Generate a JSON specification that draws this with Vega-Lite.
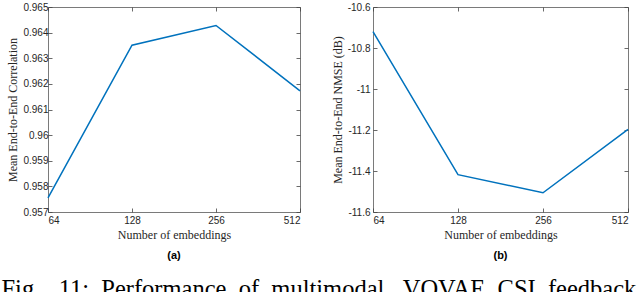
{
  "$schema": "https://vega.github.io/schema/vega-lite/v6.json",
  "padding": {"left": 1, "top": 1, "right": 0, "bottom": 0},
  "datasets": {
    "a": [
      {"n": 64, "v": 0.95755},
      {"n": 128, "v": 0.96351},
      {"n": 256, "v": 0.96428},
      {"n": 512, "v": 0.96173}
    ],
    "b": [
      {"n": 64, "v": -10.72},
      {"n": 128, "v": -11.418},
      {"n": 256, "v": -11.506},
      {"n": 512, "v": -11.197}
    ]
  },
  "title": {"text": "Fig.\u00a0\u00a0\u00a011:\u00a0\u00a0Performance\u00a0\u00a0of\u00a0\u00a0multimodal\u00a0\u00a0\u00a0VQVAE\u00a0\u00a0CSI\u00a0\u00a0feedback", "orient": "bottom", "anchor": "start", "dx": -5, "font": "Liberation Serif", "fontSize": 24.5, "fontWeight": "normal", "color": "#000", "offset": 16},
  "spacing": 26,
  "hconcat": [
    {
      "width": 252, "height": 205,
      "data": {"name": "a"},
      "title": {"text": "(a)", "orient": "bottom", "font": "Liberation Sans", "fontWeight": "bold", "fontSize": 11, "color": "#000", "offset": 10},
      "layer": [
        {
          "mark": {"type": "line", "color": "#0072BD", "strokeWidth": 1.5},
          "encoding": {
            "x": {"field": "n", "type": "quantitative", "scale": {"type": "log", "base": 2, "domain": [64, 512], "nice": false},
                  "axis": {"orient": "bottom", "values": [64, 128, 256, 512], "labelExpr": "'' + datum.value", "title": "Number of embeddings", "labelPadding": 7, "titlePadding": 4}},
            "y": {"field": "v", "type": "quantitative", "scale": {"domain": [0.957, 0.965], "nice": false, "zero": false},
                  "axis": {"orient": "left", "values": [0.957, 0.958, 0.959, 0.96, 0.961, 0.962, 0.963, 0.964, 0.965], "labelExpr": "'' + datum.value", "title": "Mean End-to-End Correlation"}}
          }
        },
        {
          "mark": {"type": "line", "opacity": 0},
          "encoding": {
            "x": {"field": "n", "type": "quantitative", "scale": {"type": "log", "base": 2, "domain": [64, 512], "nice": false},
                  "axis": {"orient": "top", "values": [64, 128, 256, 512], "labels": false, "title": null}},
            "y": {"field": "v", "type": "quantitative", "scale": {"domain": [0.957, 0.965], "nice": false, "zero": false},
                  "axis": {"orient": "right", "values": [0.957, 0.958, 0.959, 0.96, 0.961, 0.962, 0.963, 0.964, 0.965], "labels": false, "title": null}}
          }
        }
      ],
      "resolve": {"axis": {"x": "independent", "y": "independent"}}
    },
    {
      "width": 255, "height": 205,
      "data": {"name": "b"},
      "title": {"text": "(b)", "orient": "bottom", "font": "Liberation Sans", "fontWeight": "bold", "fontSize": 11, "color": "#000", "offset": 10},
      "layer": [
        {
          "mark": {"type": "line", "color": "#0072BD", "strokeWidth": 1.5},
          "encoding": {
            "x": {"field": "n", "type": "quantitative", "scale": {"type": "log", "base": 2, "domain": [64, 512], "nice": false},
                  "axis": {"orient": "bottom", "values": [64, 128, 256, 512], "labelExpr": "'' + datum.value", "title": "Number of embeddings", "labelPadding": 7, "titlePadding": 4}},
            "y": {"field": "v", "type": "quantitative", "scale": {"domain": [-11.6, -10.6], "nice": false, "zero": false},
                  "axis": {"orient": "left", "values": [-11.6, -11.4, -11.2, -11, -10.8, -10.6], "labelExpr": "'' + datum.value", "title": "Mean End-to-End NMSE (dB)", "labelPadding": 7}}
          }
        },
        {
          "mark": {"type": "line", "opacity": 0},
          "encoding": {
            "x": {"field": "n", "type": "quantitative", "scale": {"type": "log", "base": 2, "domain": [64, 512], "nice": false},
                  "axis": {"orient": "top", "values": [64, 128, 256, 512], "labels": false, "title": null}},
            "y": {"field": "v", "type": "quantitative", "scale": {"domain": [-11.6, -10.6], "nice": false, "zero": false},
                  "axis": {"orient": "right", "values": [-11.6, -11.4, -11.2, -11, -10.8, -10.6], "labels": false, "title": null}}
          }
        }
      ],
      "resolve": {"axis": {"x": "independent", "y": "independent"}}
    }
  ],
  "config": {
    "background": "white",
    "view": {"stroke": "#7a7a7a", "strokeWidth": 1},
    "axis": {
      "domain": false,
      "grid": false,
      "tickSize": -4,
      "tickColor": "#444",
      "tickWidth": 0.8,
      "labelFont": "Liberation Sans",
      "labelFontSize": 10,
      "labelColor": "#262626",
      "labelPadding": 4,
      "titleFont": "Liberation Serif",
      "titleFontSize": 12,
      "titleFontWeight": "normal",
      "titleColor": "#262626",
      "titlePadding": 3
    }
  }
}
